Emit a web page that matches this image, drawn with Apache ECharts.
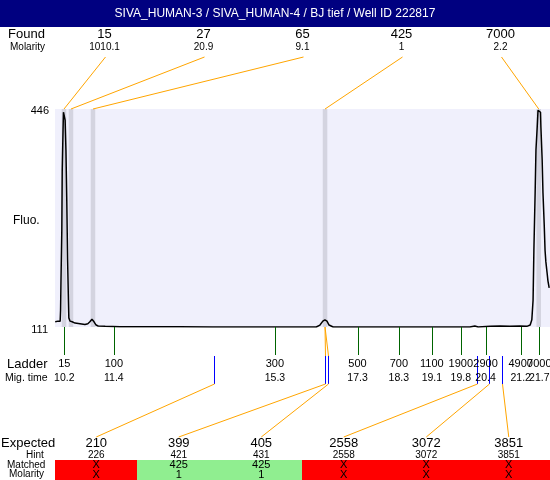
<!DOCTYPE html>
<html><head><meta charset="utf-8">
<script src="https://cdn.jsdelivr.net/npm/echarts@6/dist/echarts.min.js"></script>
<style>html,body{margin:0;padding:0;background:#fff}#c{width:550px;height:480px}</style>
</head><body><div id="c"></div>
<script>
// ---------------- data ----------------
const titleText = 'SIVA_HUMAN-3 / SIVA_HUMAN-4 / BJ tief / Well ID 222817';
const yTickValues = [111, 446];
const foundSizes = ['15', '27', '65', '425', '7000'];
const foundMolarity = ['1010.1', '20.9', '9.1', '1', '2.2'];
const foundTimes = [10.193, 10.362, 10.895, 16.513, 21.687];
const ladderSizes = ['15', '100', '300', '500', '700', '1100', '1900', '2900', '4900', '7000'];
const ladderTimes = [10.2, 11.4, 15.3, 17.3, 18.3, 19.1, 19.8, 20.4, 21.25, 21.7];
const ladderTimeLabels = ['10.2', '11.4', '15.3', '17.3', '18.3', '19.1', '19.8', '20.4', '21.2', '21.7'];
const expectedSizes = ['210', '399', '405', '2558', '3072', '3851'];
const expectedHint = ['226', '421', '431', '2558', '3072', '3851'];
const expectedTimes = [13.825, 16.513, 16.585, 20.193, 20.484, 20.799];
const matchedSizes = ['X', '425', '425', 'X', 'X', 'X'];
const matchedMolarity = ['X', '1', '1', 'X', 'X', 'X'];
const matchedFoundIndex = [-1, 3, 3, -1, -1, -1];
const fluoCurve = [
  [9.98,119],[10.00,122],[10.02,119],[10.05,120],[10.07,119],[10.10,120],[10.11,137],[10.12,183],
  [10.14,260],[10.15,352],[10.17,414],[10.18,441],[10.21,443],[10.22,429],[10.24,383],[10.26,306],
  [10.28,214],[10.30,152],[10.31,125],[10.34,120],[10.39,119],[10.46,117],[10.58,116],[10.70,115],
  [10.77,116],[10.82,119],[10.87,123],[10.92,119],[10.97,114],[11.02,112.5],[11.19,112],[11.55,111.5],
  [13.00,111.5],[13.78,111],[13.80,112.5],[13.83,111],[15.91,111],[16.30,111],[16.39,114],[16.46,120],
  [16.51,122],[16.56,120],[16.61,114],[16.71,111],[20.02,111],[20.14,112.5],[20.22,111],[20.51,112],
  [20.75,112.5],[20.99,112],[21.23,112.5],[21.40,112],[21.48,114],[21.52,122],[21.55,152],[21.57,229],
  [21.60,317],[21.62,383],[21.65,418],[21.67,444],[21.71,446],[21.73,441],[21.74,418],[21.77,368],
  [21.79,317],[21.82,268],[21.84,229],[21.86,211],[21.89,194],[21.91,182],[21.94,171]
];

// ---------------- chart ----------------
const FONT = '"Liberation Sans", Arial, sans-serif';
const X_MIN = 9.975, X_MAX = 21.96, BAND_HALF = 0.055;
const GRID = {left: 55, top: 109, width: 495, height: 218};

const chart = echarts.init(document.getElementById('c'), null, {renderer: 'canvas'});
chart.setOption({
  animation: false,
  backgroundColor: '#fff',
  grid: Object.assign({show: true, backgroundColor: 'rgb(240,240,252)', borderWidth: 0}, GRID),
  xAxis: {type: 'value', min: X_MIN, max: X_MAX, show: false},
  yAxis: {type: 'value', min: yTickValues[0], max: yTickValues[1], show: false},
  series: [
    {
      type: 'custom', z: 1, silent: true,
      data: foundTimes.map(t => [t]),
      renderItem: (params, api) => {
        const t = api.value(0);
        const a = api.coord([t - BAND_HALF, yTickValues[1]]);
        const b = api.coord([t + BAND_HALF, yTickValues[0]]);
        return {type: 'rect', shape: {x: a[0], y: a[1], width: b[0] - a[0], height: b[1] - a[1]},
                style: {fill: 'rgb(212,212,224)'}};
      }
    },
    {
      type: 'line', z: 3, silent: true, data: fluoCurve, showSymbol: false,
      lineStyle: {color: '#000', width: 1.5}
    }
  ]
});

const px = (t, f) => chart.convertToPixel({gridIndex: 0}, [t, f]);
const crisp = v => Math.round(v) + 0.5;
const g = [];
function txt(s, x, y, size, align, color) {
  g.push({type: 'text', silent: true, z: 10, style: {
    text: s, x: x, y: y, font: size + 'px ' + FONT, fill: color || '#000',
    align: align || 'center', textAlign: align || 'center',
    verticalAlign: 'middle', textVerticalAlign: 'middle'}});
}
function line(x1, y1, x2, y2, color) {
  g.push({type: 'line', silent: true, z: 9, shape: {x1, y1, x2, y2}, style: {stroke: color, lineWidth: 1}});
}
function rect(x, y, w, h, color) {
  g.push({type: 'rect', silent: true, z: 8, shape: {x, y, width: w, height: h}, style: {fill: color}});
}

// title bar
rect(0, 0, 550, 27, '#000080');
txt(titleText, 275, 14, 12, 'center', '#fff');

// found row
const plotL = GRID.left, plotW = GRID.width;
const topY = px(X_MIN, yTickValues[1])[1];
const botY = px(X_MIN, yTickValues[0])[1];
txt('Found', 8, 34, 13, 'left');
txt('Molarity', 10, 47, 10, 'left');
const nF = foundSizes.length;
foundSizes.forEach((s, i) => {
  const cx = plotL + plotW / nF * (i + 0.5);
  txt(s, cx, 34, 13);
  txt(foundMolarity[i], cx, 47, 10);
  const bx = px(foundTimes[i], yTickValues[1])[0];
  line(cx + 1, 57, bx, topY, '#FFA500');
});

// y axis labels
txt(String(yTickValues[1]), 49, topY + 2, 11, 'right');
txt(String(yTickValues[0]), 48, botY + 3, 11, 'right');
txt('Fluo.', 13, 221, 12, 'left');

// ladder
txt('Ladder', 7, 364, 13, 'left');
txt('Mig. time', 5, 378, 10.5, 'left');
ladderSizes.forEach((s, i) => {
  const x = px(ladderTimes[i], yTickValues[0])[0];
  line(crisp(x), botY, crisp(x), 355, '#006400');
  txt(s, x, 364, 11);
  txt(ladderTimeLabels[i], x, 378, 10.5);
});

// expected
const nE = expectedSizes.length;
const slotW = plotW / nE;
txt('Expected', 1, 443, 13, 'left');
txt('Hint', 26, 455, 10, 'left');
txt('Matched', 7, 465, 10, 'left');
txt('Molarity', 9, 474, 10, 'left');
expectedSizes.forEach((s, i) => {
  const x = crisp(px(expectedTimes[i], yTickValues[0])[0]);
  const cx = plotL + slotW * (i + 0.5);
  line(x, 356, x, 384, '#0000FF');
  line(x, 384, cx, 437, '#FFA500');
  if (matchedFoundIndex[i] >= 0) {
    const fx = px(foundTimes[matchedFoundIndex[i]], yTickValues[0])[0];
    line(fx, botY, x, 356, '#FFA500');
  }
  const x0 = Math.floor(plotL + slotW * i);
  const x1 = Math.ceil(plotL + slotW * (i + 1));
  rect(x0, 460, x1 - x0, 20, matchedFoundIndex[i] >= 0 ? 'rgb(144,238,144)' : '#FF0000');
  txt(s, cx, 443, 13);
  txt(expectedHint[i], cx, 455, 10);
  txt(matchedSizes[i], cx, 465, 11);
  txt(matchedMolarity[i], cx, 475, 11);
});

chart.setOption({graphic: {elements: g}});
</script>
</body></html>
